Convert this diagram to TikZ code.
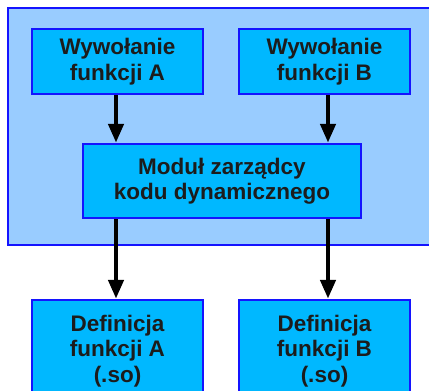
\documentclass[tikz,border=0pt]{standalone}
\usepackage{fontspec}
\setmainfont{Liberation Sans}
\usepackage{xcolor}
\usetikzlibrary{arrows.meta}
\definecolor{palesky}{RGB}{153,204,255}
\definecolor{boxfill}{RGB}{0,184,255}
\definecolor{edgeblue}{RGB}{20,20,255}
\definecolor{inktext}{RGB}{28,28,28}
\tikzset{
  modbox/.style={draw=edgeblue, line width=2.5pt, fill=boxfill, minimum width=171pt,
    minimum height=65pt, align=center, text=inktext,
    font=\fontsize{22.5}{25.5}\selectfont\bfseries},
  flow/.style={line width=4.5pt, -{Triangle[length=19pt,width=15pt]}}
}
\begin{document}
\begin{tikzpicture}[x=1pt,y=-1pt]
                \clip (0,0) rectangle (429,391);
                \draw[edgeblue, line width=2.5pt, fill=palesky] (8,8) rectangle (445,245);
                \node[modbox] (callA) at (117.5,61.5) {Wywołanie\\funkcji A};
                \node[modbox] (callB) at (324.5,61.5) {Wywołanie\\funkcji B};
                \node[modbox, minimum width=278pt, minimum height=74pt] (manager) at (222,181) {Moduł zarządcy\\kodu dynamicznego};
                \node[modbox, minimum height=102pt] (defA) at (117.5,351) {Definicja\\funkcji A\\(.so)};
                \node[modbox, minimum height=102pt] (defB) at (324.5,351) {Definicja\\funkcji B\\(.so)};
                \coordinate (laneA) at (116,0);
                \coordinate (laneB) at (328,0);
                \draw[flow] (callA.south -| laneA) -- (manager.north -| laneA);
                \draw[flow] (callB.south -| laneB) -- (manager.north -| laneB);
                \draw[flow] (manager.south -| laneA) -- (defA.north -| laneA);
                \draw[flow] (manager.south -| laneB) -- (defB.north -| laneB);
            \end{tikzpicture}
\end{document}
